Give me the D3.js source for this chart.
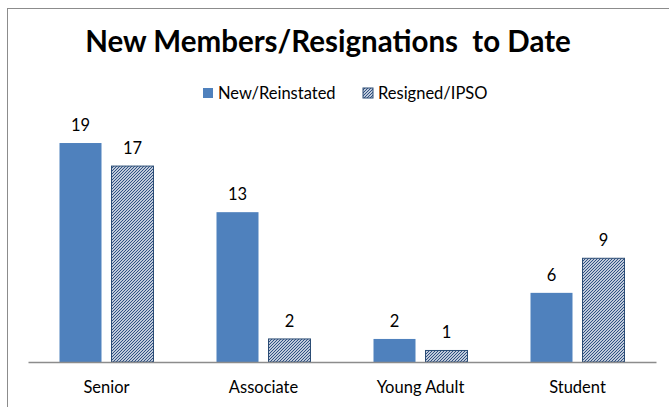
<!DOCTYPE html>
<html>
<head>
<meta charset="utf-8" />
<title>New Members/Resignations to Date</title>
<script src="https://cdn.jsdelivr.net/npm/d3@7"></script>
<style>
  html, body { margin: 0; padding: 0; background: #fff; }
  svg { display: block; }
  text { font-family: Lato, "Open Sans", sans-serif; fill: #000; }
  .title { font-size: 29.5px; font-weight: bold; text-anchor: middle; white-space: pre; }
  .legend text { font-size: 16.5px; }
  .value { font-size: 16.5px; text-anchor: middle; }
</style>
</head>
<body>
<svg id="chart" width="669" height="407"></svg>
<script>
// data
const categories = ["Senior", "Associate", "Young Adult", "Student"];
const seriesNames = ["New/Reinstated", "Resigned/IPSO"];
const newReinstated = [19, 13, 2, 6];
const resignedIpso = [17, 2, 1, 9];

const W = 669, H = 407;
const plot = { left: 28, right: 656, top: 131.5, bottom: 362 };

const svg = d3.select('#chart');

// dense upward-diagonal hatch for the second series
const defs = svg.append('defs');
const pat = defs.append('pattern')
  .attr('id', 'hatch')
  .attr('patternUnits', 'userSpaceOnUse')
  .attr('width', 3)
  .attr('height', 3);
pat.append('rect').attr('width', 3).attr('height', 3).attr('fill', '#fff');
pat.append('path')
  .attr('d', 'M-1,1 L1,-1 M0,3 L3,0 M2,4 L4,2')
  .attr('stroke', '#24477c')
  .attr('stroke-width', 1.1);

// chart border (runs off the right and bottom)
svg.append('rect')
  .attr('x', 7.5).attr('y', 8.5)
  .attr('width', W).attr('height', H)
  .attr('fill', 'none')
  .attr('stroke', '#8c8c8c')
  .attr('stroke-width', 1);

svg.append('text')
  .attr('class', 'title')
  .attr('x', 328)
  .attr('y', 52)
  .attr('xml:space', 'preserve')
  .text('New Members/Resignations  to Date');

const x0 = d3.scaleBand()
  .domain(categories)
  .range([plot.left, plot.right])
  .paddingInner(0)
  .paddingOuter(0);

const x1 = d3.scaleBand()
  .domain(seriesNames)
  .range([31.5, x0.bandwidth() - 31.5])
  .paddingInner(10 / 52);

const y = d3.scaleLinear()
  .domain([0, 20])
  .range([plot.bottom, plot.top]);

const rows = categories.map((c, i) => ({
  cat: c,
  vals: [
    { key: seriesNames[0], v: newReinstated[i] },
    { key: seriesNames[1], v: resignedIpso[i] }
  ]
}));

const groups = svg.append('g')
  .selectAll('g')
  .data(rows)
  .enter()
  .append('g')
  .attr('transform', d => 'translate(' + x0(d.cat) + ',0)');

groups.selectAll('rect')
  .data(d => d.vals)
  .enter()
  .append('rect')
  .attr('x', d => x1(d.key))
  .attr('y', d => y(d.v))
  .attr('width', x1.bandwidth())
  .attr('height', d => y(0) - y(d.v))
  .attr('fill', d => d.key === seriesNames[0] ? '#4f81bd' : 'url(#hatch)')
  .attr('stroke', d => d.key === seriesNames[0] ? 'none' : '#2c4d75')
  .attr('stroke-width', 1);

groups.selectAll('text.value')
  .data(d => d.vals)
  .enter()
  .append('text')
  .attr('class', 'value')
  .attr('x', d => x1(d.key) + x1.bandwidth() / 2)
  .attr('y', d => y(d.v) - 12)
  .text(d => d.v);

// category axis
const axis = svg.append('g')
  .attr('transform', 'translate(0,' + plot.bottom + ')')
  .call(d3.axisBottom(x0).tickSize(0).tickPadding(0));
axis.select('.domain').attr('stroke', '#8c8c8c').attr('stroke-width', 1.5);
axis.selectAll('text')
  .attr('dy', null)
  .attr('y', 31)
  .style('font-family', 'Lato, sans-serif')
  .style('font-size', '16.5px')
  .attr('fill', '#000');

// legend
const legend = svg.append('g').attr('class', 'legend');
const legendX = [203, 363];
seriesNames.forEach((name, i) => {
  legend.append('rect')
    .attr('x', legendX[i]).attr('y', 88)
    .attr('width', 10).attr('height', 10)
    .attr('fill', i === 0 ? '#4f81bd' : 'url(#hatch)')
    .attr('stroke', i === 0 ? 'none' : '#2c4d75');
  legend.append('text')
    .attr('x', legendX[i] + 15)
    .attr('y', 99)
    .text(name);
});
</script>
</body>
</html>
